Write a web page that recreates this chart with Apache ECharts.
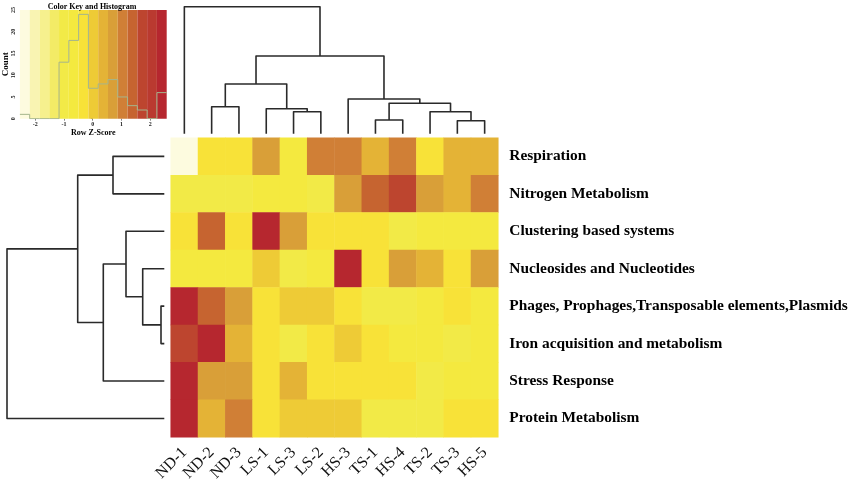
<!DOCTYPE html>
<html>
<head>
    <title>Heatmap</title>
    <meta charset="utf-8"/>
    <style>
        html, body { margin: 0; padding: 0; background: #fff; }
        #main { width: 851px; height: 487px; }
    </style>
    <script src="https://cdn.jsdelivr.net/npm/echarts@6/dist/echarts.min.js"></script>
</head>
<body>
<div id="main"></div>
<script>
    var samples = ['ND-1', 'ND-2', 'ND-3', 'LS-1', 'LS-3', 'LS-2', 'HS-3', 'TS-1', 'HS-4', 'TS-2', 'TS-3', 'HS-5'];
    var pathways = ['Respiration', 'Nitrogen Metabolism', 'Clustering based systems', 'Nucleosides and Nucleotides',
        'Phages, Prophages,Transposable elements,Plasmids', 'Iron acquisition and metabolism', 'Stress Response', 'Protein Metabolism'];

    // row z-scores, one list per pathway
    var respiration = [-2.36, -0.32, -0.32, 0.70, -0.66, 1.04, 1.04, 0.36, 1.04, -0.32, 0.36, 0.36];
    var nitrogen = [-1.00, -1.00, -1.00, -0.66, -0.66, -1.00, 0.70, 1.38, 1.72, 0.70, 0.36, 1.04];
    var clustering = [-0.32, 1.38, -0.32, 2.40, 0.70, -0.32, -0.32, -0.32, -1.00, -0.66, -0.66, -0.66];
    var nucleosides = [-0.66, -0.66, -0.66, 0.02, -1.00, -0.66, 2.40, -0.32, 0.70, 0.36, -0.32, 0.70];
    var phages = [2.40, 1.38, 0.70, -0.32, 0.02, 0.02, -0.32, -1.00, -1.00, -0.66, -0.32, -0.66];
    var iron = [1.72, 2.40, 0.36, -0.32, -1.00, -0.32, 0.02, -0.32, -0.66, -0.66, -1.00, -0.66];
    var stress = [2.40, 0.70, 0.70, -0.32, 0.36, -0.32, -0.32, -0.32, -0.32, -1.00, -0.66, -0.66];
    var protein = [2.40, 0.36, 1.04, -0.32, 0.02, 0.02, 0.02, -1.00, -1.00, -1.00, -0.32, -0.32];
    var zRows = [respiration, nitrogen, clustering, nucleosides, phages, iron, stress, protein];

    // colour key bins and histogram counts
    var keyBreaks = [-2.53, -2.19, -1.85, -1.51, -1.17, -0.83, -0.49, -0.15, 0.19, 0.53, 0.87, 1.21, 1.55, 1.89, 2.23, 2.57];
    var keyColors = ['#fdfbdf', '#f9f4b2', '#f6f08e', '#f3eb66', '#f2ea47', '#f4e93f', '#f8e238', '#eecb36', '#e4b336',
        '#d99f38', '#d07f36', '#c66430', '#bd452f', '#ba3a30', '#b6272f'];
    var histCounts = [1, 0, 0, 0, 13, 18, 24, 7, 8, 9, 5, 3, 2, 0, 6];
    var keyTicks = [-2, -1, 0, 1, 2];
    var countTicks = [0, 5, 10, 15, 20, 25];

    // hclust style merges: negative = leaf number, positive = earlier merge number; then the height
    var colMerges = [[-2, -3, 27], [-5, -6, 22], [-4, 2, 25], [1, 3, 49.7], [-8, -9, 13.7], [-11, -12, 13],
        [-10, 6, 22], [5, 7, 30.4], [-7, 8, 34.7], [4, 9, 77.7], [-1, 10, 127]];
    var rowMerges = [[-1, -2, 51.3], [-5, -6, 3.3], [-4, 2, 21.6], [-3, 3, 38.3], [-7, 4, 61], [1, 5, 86.6], [-8, 6, 157.3]];

    var serif = '"Liberation Serif", serif';
    var chart = echarts.init(document.getElementById('main'));

    // each merge becomes an open bracket: [position, height] points
    function dendroPaths(merges) {
        var nodes = [];
        function node(ref) {
            return ref < 0 ? {pos: -ref - 0.5, h: 0} : nodes[ref - 1];
        }
        return merges.map(function (m) {
            var a = node(m[0]), b = node(m[1]);
            nodes.push({pos: (a.pos + b.pos) / 2, h: m[2]});
            return [[a.pos, a.h], [a.pos, m[2]], [b.pos, m[2]], [b.pos, b.h]];
        });
    }

    function dendroSeries(paths, idx, flip) {
        return paths.map(function (p) {
            return {
                type: 'line',
                xAxisIndex: idx,
                yAxisIndex: idx,
                showSymbol: false,
                silent: true,
                lineStyle: {color: '#2a2a2a', width: 1.6, join: 'round'},
                data: flip ? p.map(function (q) { return [q[1], q[0]]; }) : p
            };
        });
    }

    var heatData = [];
    zRows.forEach(function (row, r) {
        row.forEach(function (z, c) {
            heatData.push([c, r, z]);
        });
    });

    var pieces = keyColors.map(function (color, i) {
        return {gte: keyBreaks[i], lt: keyBreaks[i + 1], color: color};
    });

    var bandData = keyColors.map(function (color, i) {
        return [keyBreaks[i], keyBreaks[i + 1], i];
    });

    var histLine = histCounts.map(function (n, i) {
        return [keyBreaks[i], n];
    });
    histLine.push([keyBreaks[keyBreaks.length - 1], histCounts[histCounts.length - 1]]);

    var option = {
        animation: false,
        backgroundColor: '#fff',
        title: {
            text: 'Color Key and Histogram',
            left: 87,
            top: -2,
            textAlign: 'center',
            textStyle: {fontFamily: serif, fontSize: 8, fontWeight: 'bold', color: '#000'}
        },
        grid: [
            {left: 170.7, top: 137.7, width: 327.6, height: 299.5},
            {left: 170.7, top: 0, width: 327.6, height: 133.7},
            {left: 0, top: 137.7, width: 164.3, height: 299.5},
            {left: 16.7, top: 10, width: 150, height: 108.7}
        ],
        xAxis: [
            {
                type: 'category', gridIndex: 0, data: samples,
                axisLine: {show: false}, axisTick: {show: false}, splitLine: {show: false},
                axisLabel: {rotate: 45, interval: 0, margin: 13, fontFamily: serif, fontSize: 16, color: '#111'}
            },
            {type: 'value', gridIndex: 1, min: 0, max: 12, show: false},
            {type: 'value', gridIndex: 2, min: 0, max: 164.3, inverse: true, show: false},
            {
                type: 'value', gridIndex: 3, min: -2.53, max: 2.57,
                splitLine: {show: false},
                axisLine: {show: false},
                axisTick: {length: 2, customValues: keyTicks, lineStyle: {color: '#333', width: 0.6}},
                axisLabel: {customValues: keyTicks, margin: 3, fontFamily: serif, fontSize: 6, fontWeight: 'bold', color: '#222'},
                name: 'Row Z-Score', nameLocation: 'middle', nameGap: 10,
                nameTextStyle: {fontFamily: serif, fontSize: 8, fontWeight: 'bold', color: '#000'}
            }
        ],
        yAxis: [
            {
                type: 'category', gridIndex: 0, data: pathways, inverse: true, position: 'right',
                axisLine: {show: false}, axisTick: {show: false}, splitLine: {show: false},
                axisLabel: {interval: 0, margin: 11, padding: [3, 0, 0, 0], fontFamily: serif, fontSize: 15.4, fontWeight: 'bold', color: '#000'}
            },
            {type: 'value', gridIndex: 1, min: 0, max: 133.7, show: false},
            {type: 'value', gridIndex: 2, min: 0, max: 8, inverse: true, show: false},
            {
                type: 'value', gridIndex: 3, min: 0, max: 25,
                splitLine: {show: false},
                axisLine: {show: false},
                axisTick: {length: 2, customValues: countTicks, lineStyle: {color: '#333', width: 0.6}},
                axisLabel: {customValues: countTicks, rotate: 90, margin: 3, fontFamily: serif, fontSize: 6, fontWeight: 'bold', color: '#222'},
                name: 'Count', nameLocation: 'middle', nameGap: 7,
                nameTextStyle: {fontFamily: serif, fontSize: 9, fontWeight: 'bold', color: '#000'}
            }
        ],
        visualMap: {show: false, type: 'piecewise', seriesIndex: 0, dimension: 2, pieces: pieces},
        series: [
            {type: 'heatmap', xAxisIndex: 0, yAxisIndex: 0, data: heatData, silent: true},
            {
                type: 'custom',
                xAxisIndex: 3,
                yAxisIndex: 3,
                silent: true,
                data: bandData,
                encode: {x: [0, 1]},
                renderItem: function (params, api) {
                    var p0 = api.coord([api.value(0), 25]);
                    var p1 = api.coord([api.value(1), 0]);
                    return {
                        type: 'rect',
                        shape: {x: p0[0], y: p0[1], width: p1[0] - p0[0], height: p1[1] - p0[1]},
                        style: {fill: keyColors[api.value(2)]}
                    };
                }
            },
            {
                type: 'line',
                xAxisIndex: 3,
                yAxisIndex: 3,
                step: 'end',
                showSymbol: false,
                silent: true,
                lineStyle: {color: '#a5b58c', width: 1},
                data: histLine
            }
        ].concat(dendroSeries(dendroPaths(colMerges), 1, false), dendroSeries(dendroPaths(rowMerges), 2, true))
    };
    chart.setOption(option);
</script>
</body>
</html>
